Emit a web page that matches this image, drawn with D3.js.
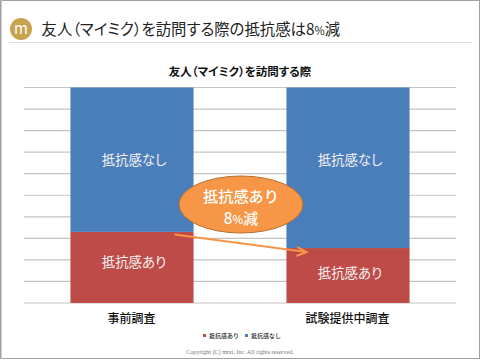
<!DOCTYPE html>
<html lang="ja"><head><meta charset="utf-8">
<script src="https://cdn.jsdelivr.net/npm/d3@7/dist/d3.min.js"></script>
<style>html,body{margin:0;padding:0;background:#fff}svg{display:block}text{font-family:"Noto Sans CJK JP",sans-serif;font-feature-settings:"palt"}</style>
</head><body><svg id="c" width="480" height="360"></svg>
<script>
const categories = ["事前調査", "試験提供中調査"];
const seriesNames = ["抵抗感あり", "抵抗感なし"];
const withResistance = [33, 25.5];
const withoutResistance = [67, 74.5];
const colors = ["#BE4B48", "#4A7EBB"];
const gridTicks = d3.range(0, 101, 10);
const slideTitle = "友人\uFF08マイミク\uFF09を訪問する際の抵抗感は8%減";
const chartTitle = "友人\uFF08マイミク\uFF09を訪問する際";
const calloutLines = ["抵抗感あり", "8%減"];
const copyright = "Copyright (C) mixi, Inc. All rights reserved.";

const svg = d3.select("#c");
const x = d3.scaleBand().domain(categories).range([24, 456]).paddingInner(0.43).paddingOuter(0.215);
const y = d3.scaleLinear().domain([0, 100]).range([303, 87.5]);

function pct(sel, ratio){
  sel.each(function(){
    const t = d3.select(this), s = t.text(), fs = +t.attr("font-size");
    t.text(null);
    s.split(/(%)/).forEach(p=>{
      const ts = t.append("tspan").text(p);
      if(p==="%") ts.attr("font-size",fs*ratio);
    });
  });
}

// frame
svg.append("rect").attr("x",0.5).attr("y",0.5).attr("width",479).attr("height",358).attr("fill","#fff").attr("stroke","#a0a0a0");
svg.append("line").attr("x1",1.5).attr("x2",1.5).attr("y1",0).attr("y2",359).attr("stroke","#d0d0d0");
// header
const logo = svg.append("g");
logo.append("circle").attr("cx",21).attr("cy",29).attr("r",11).attr("fill","#C9A24F");
logo.append("path").attr("d","M17 38 L21 40 L24 38Z").attr("fill","#C9A24F");
logo.append("text").attr("x",21).attr("y",33.5).attr("text-anchor","middle").attr("font-size",15).attr("fill","#fff").text("m");
svg.append("text").attr("x",41.5).attr("y",34.5).attr("font-size",15.4).attr("fill","#222").text(slideTitle).call(pct,0.72);
svg.append("line").attr("x1",9).attr("x2",472).attr("y1",42.5).attr("y2",42.5).attr("stroke","#ddd");
svg.append("text").attr("x",240).attr("y",76).attr("text-anchor","middle").attr("font-size",11.5).attr("font-weight",700).attr("fill","#111").text(chartTitle);

// grid
svg.append("g").selectAll("line").data(gridTicks).join("line")
  .attr("x1",24).attr("x2",456).attr("y1",d=>y(d)).attr("y2",d=>y(d))
  .attr("stroke","#c4c4c4").attr("stroke-width",1.2);

// bars
const stack = d3.stack().keys([0,1]).value((d,k)=>d[k])(categories.map((c,i)=>[withResistance[i],withoutResistance[i]]));
const labelNudge = [[-4.5,-2.5],[0,0]];
stack.forEach((s,si)=>{
  svg.append("g").selectAll("rect").data(s).join("rect")
    .attr("x",(d,i)=>x(categories[i])).attr("width",x.bandwidth())
    .attr("y",d=>y(d[1])).attr("height",d=>y(d[0])-y(d[1])).attr("fill",colors[si]);
  svg.append("g").selectAll("text").data(s).join("text")
    .attr("x",(d,i)=>x(categories[i])+x.bandwidth()/2+2)
    .attr("y",(d,i)=>si===0?(y(d[0])+y(d[1]))/2+4.5+labelNudge[0][i]:165)
    .attr("text-anchor","middle").attr("font-size",13.4).attr("fill","#f4f0f0").text(seriesNames[si]);
});

// category labels
svg.append("g").selectAll("text").data(categories).join("text")
  .attr("x",d=>x(d)+x.bandwidth()/2-0.5).attr("y",322.5).attr("text-anchor","middle")
  .attr("font-size",12).attr("font-weight",500).attr("fill","#111").text(d=>d);

// callout arrow
const p0 = [x(categories[0])+x.bandwidth()-19, y(withResistance[0])+2.5];
const p1 = [x(categories[1])+20, y(withResistance[1])+4];
svg.append("line").attr("x1",p0[0]).attr("y1",p0[1]).attr("x2",p1[0]).attr("y2",p1[1]).attr("stroke","#F79646").attr("stroke-width",2);
svg.append("path").attr("d",`M${p1[0]-9} ${p1[1]-5} L${p1[0]} ${p1[1]} L${p1[0]-10} ${p1[1]+4}`).attr("fill","none").attr("stroke","#F79646").attr("stroke-width",2);

// callout ellipse
svg.append("ellipse").attr("cx",241).attr("cy",204.5).attr("rx",62).attr("ry",28.5).attr("fill","#F79646").attr("stroke","#B5702F").attr("stroke-width",1);
svg.selectAll("text.call").data(calloutLines).join("text").attr("class","call")
  .attr("x",241).attr("y",(d,i)=>i===0?201.5:223.5).attr("text-anchor","middle")
  .attr("font-size",15.2).attr("font-weight",500).attr("fill","#fff").style("font-feature-settings","normal").text(d=>d).call(pct,0.75);

// legend
const lg = svg.append("g");
seriesNames.forEach((n,i)=>{
  const lx = 203 + i*42;
  lg.append("rect").attr("x",lx).attr("y",334).attr("width",3).attr("height",3).attr("fill",colors[i]);
  lg.append("text").attr("x",lx+6).attr("y",338).attr("font-size",6).attr("font-weight",500).attr("fill","#222").style("font-feature-settings","normal").text(n);
});
svg.append("text").attr("x",240).attr("y",354).attr("text-anchor","middle").style("font-family","Liberation Serif").attr("font-size",6.1).attr("fill","#777").text(copyright);
</script></body></html>
